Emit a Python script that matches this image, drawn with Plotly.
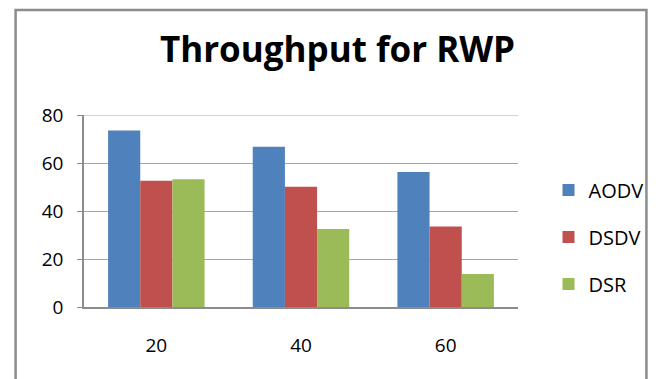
import plotly.graph_objects as go

# Throughput (kbps) of three routing protocols under the Random Waypoint model
categories = ["20", "40", "60"]
aodv = [73.5, 66.8, 56.2]
dsdv = [52.6, 50.1, 33.5]
dsr = [53.2, 32.5, 13.8]

series = [
    ("AODV", aodv, "#4F81BD"),
    ("DSDV", dsdv, "#C0504D"),
    ("DSR", dsr, "#9BBB59"),
]

FONT = "Open Sans"
W, H = 660, 379
L, R, T, B = 84, 135, 115, 72
Y_MAX = 80

fig = go.Figure()
for name, vals, color in series:
    fig.add_trace(go.Bar(
        x=categories, y=vals, name=name, legendgroup=name,
        marker=dict(color=color, line=dict(width=0)),
    ))

pw, ph = W - L - R, H - T - B

def px_x(x):
    return (x - L) / pw

def px_y(y):
    return (H - B - y) / ph

# outer chart frame (left, top and right edges)
fig.add_shape(
    type="path", xref="paper", yref="paper",
    path=(f"M {px_x(14.5)} {px_y(390)} L {px_x(14.5)} {px_y(10)} "
          f"L {px_x(655.5)} {px_y(10)} L {px_x(655.5)} {px_y(390)}"),
    line=dict(color="#8C8C8C", width=2.5),
)
# gridline at the top of the value range
fig.add_shape(
    type="line", xref="paper", yref="y", x0=0, x1=1, y0=Y_MAX, y1=Y_MAX,
    line=dict(color="#A6A6A6", width=1), layer="below",
)

fig.update_layout(
    width=W, height=H,
    margin=dict(l=L, r=R, t=T, b=B),
    paper_bgcolor="white", plot_bgcolor="white",
    barmode="group", bargap=0.333, bargroupgap=0,
    title=dict(
        text="<b>Throughput for RWP</b>",
        font=dict(family=FONT, size=35, color="black"),
        x=337.5 / W, xref="container", xanchor="center",
        y=(H - 50) / H, yref="container", yanchor="middle",
    ),
    font=dict(family=FONT, size=18, color="black"),
    showlegend=True,
    legend=dict(
        x=px_x(556), xanchor="left", y=px_y(237), yanchor="middle",
        font=dict(family=FONT, size=20, color="black"),
        tracegroupgap=18, itemwidth=30,
        bgcolor="rgba(0,0,0,0)",
    ),
    xaxis=dict(
        showgrid=False, showline=True, linecolor="#8C8C8C", linewidth=1.5,
        ticks="", ticklabelstandoff=20,
        tickfont=dict(family=FONT, size=19),
    ),
    yaxis=dict(
        range=[0, Y_MAX], dtick=20, showgrid=True, gridcolor="#A6A6A6", gridwidth=1,
        showline=True, linecolor="#8C8C8C", linewidth=1.5,
        ticks="outside", ticklen=5, tickcolor="#8C8C8C",
        ticklabelstandoff=10, zeroline=False,
        tickfont=dict(family=FONT, size=19),
    ),
)

fig.write_html("out.html")
